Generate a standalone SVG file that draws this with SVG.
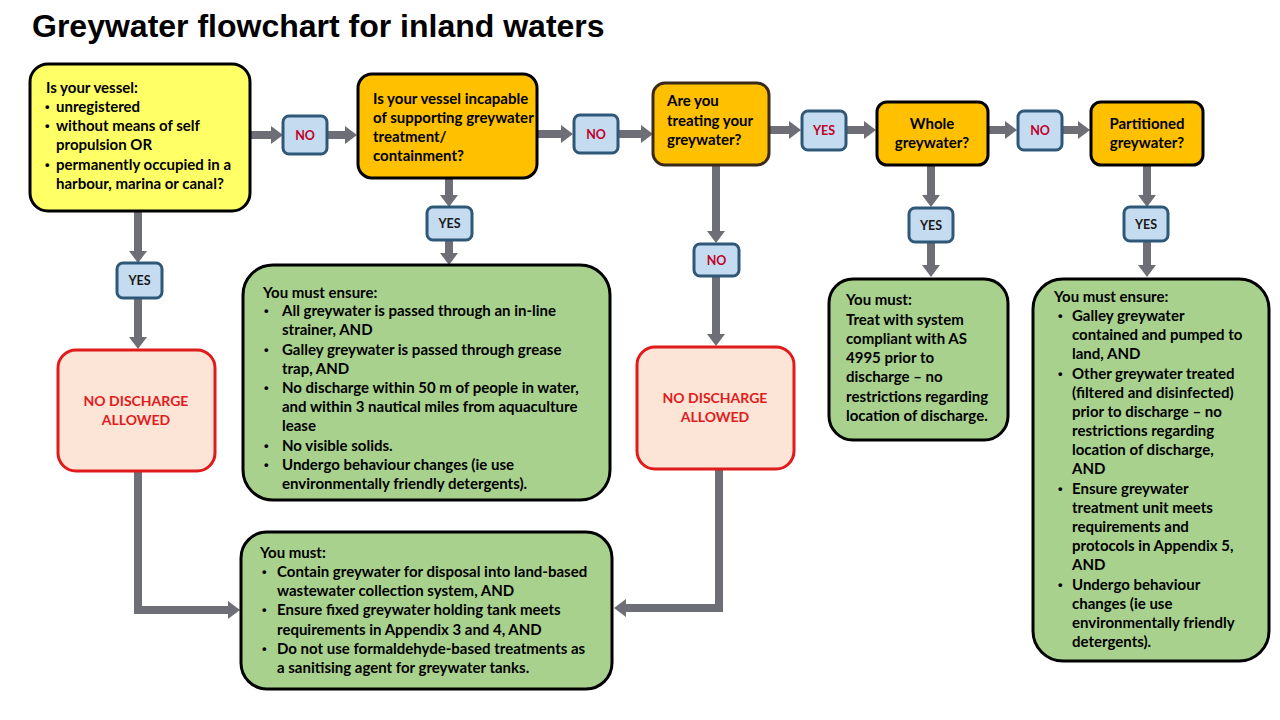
<svg xmlns="http://www.w3.org/2000/svg" width="1280" height="720" viewBox="0 0 1280 720">
<defs>
<marker id="ah" markerUnits="userSpaceOnUse" markerWidth="12" markerHeight="18" viewBox="0 0 12 18" refX="0" refY="9" orient="auto">
<path d="M0,0 L12,9 L0,18 z" fill="#6e6e76"/>
</marker>
</defs>
<style>
.t{font-family:Lato,"Liberation Sans",sans-serif;font-weight:bold;font-size:15px;fill:#000}
.b{font-family:"Liberation Sans",sans-serif;font-weight:bold;font-size:13px;fill:#000}
.title{font-family:"Liberation Sans",Arial,sans-serif;font-weight:bold;font-size:32px;fill:#000}
.yel{fill:#ffff66;stroke:#000;stroke-width:3}
.org{fill:#ffc000;stroke:#000;stroke-width:3}
.grn{fill:#a9d18e;stroke:#000;stroke-width:3}
.red{fill:#fce4d6;stroke:#e01b1b;stroke-width:3}
.lab{fill:#c5dcf0;stroke:#2f5878;stroke-width:3}
.lt{font-family:Lato,"Liberation Sans",sans-serif;font-weight:bold;font-size:12.5px;text-anchor:middle}
.rt{fill:#c0002a}
.bt{fill:#1a1a1a}
.nd{font-family:Lato,"Liberation Sans",sans-serif;font-weight:bold;font-size:14px;fill:#e01b1b;text-anchor:middle}
.c{fill:none;stroke:#6e6e76;stroke-width:8;marker-end:url(#ah)}
</style>
<rect width="1280" height="720" fill="#fff"/>
<text class="title" x="32" y="37">Greywater flowchart for inland waters</text>

<g id="connectors">
<line class="c" x1="250" y1="135" x2="271" y2="135"/>
<line class="c" x1="327" y1="135" x2="345" y2="135"/>
<line class="c" x1="537" y1="134" x2="561" y2="134"/>
<line class="c" x1="618" y1="134" x2="641" y2="134"/>
<line class="c" x1="769" y1="130" x2="789" y2="130"/>
<line class="c" x1="846" y1="130" x2="864" y2="130"/>
<line class="c" x1="988" y1="130" x2="1005" y2="130"/>
<line class="c" x1="1062" y1="130" x2="1078" y2="130"/>
<line class="c" x1="138" y1="211" x2="138" y2="251"/>
<line class="c" x1="138" y1="298" x2="138" y2="337"/>
<polyline class="c" points="138,471 138,610 228,610"/>
<line class="c" x1="449" y1="178" x2="449" y2="195"/>
<line class="c" x1="449" y1="240" x2="449" y2="253"/>
<line class="c" x1="716" y1="165" x2="716" y2="231"/>
<line class="c" x1="716" y1="276" x2="716" y2="334"/>
<polyline class="c" points="719,469 719,608 626,608"/>
<line class="c" x1="931" y1="165" x2="931" y2="195"/>
<line class="c" x1="931" y1="242" x2="931" y2="265"/>
<line class="c" x1="1147" y1="165" x2="1147" y2="195"/>
<line class="c" x1="1147" y1="241" x2="1147" y2="265"/>
</g>

<g id="q1">
<rect class="yel" x="30" y="64" width="220" height="147" rx="18"/>
<text class="t" x="46" y="93">Is your vessel:</text>
<text class="b" x="45" y="111">•</text><text class="t" x="56" y="112">unregistered</text>
<text class="b" x="45" y="130">•</text><text class="t" x="56" y="131">without means of self</text>
<text class="t" x="56" y="150">propulsion OR</text>
<text class="b" x="45" y="169">•</text><text class="t" x="56" y="170">permanently occupied in a</text>
<text class="t" x="56" y="189">harbour, marina or canal?</text>
</g>

<g id="l1"><rect class="lab" x="283" y="116" width="44" height="38" rx="6"/><text class="lt rt" x="305" y="139.5">NO</text></g>

<g id="q2">
<rect class="org" x="358" y="74" width="179" height="104" rx="14"/>
<text class="t" x="373" y="104">Is your vessel incapable</text>
<text class="t" x="373" y="123">of supporting greywater</text>
<text class="t" x="373" y="142">treatment/</text>
<text class="t" x="373" y="161">containment?</text>
</g>

<g id="l2"><rect class="lab" x="574" y="115" width="44" height="38" rx="6"/><text class="lt rt" x="596" y="138.5">NO</text></g>

<g id="q3">
<rect class="org" x="653" y="83" width="116" height="82" rx="12" style="stroke:#3a2a1a"/>
<text class="t" x="667" y="106">Are you</text>
<text class="t" x="667" y="126">treating your</text>
<text class="t" x="667" y="145">greywater?</text>
</g>

<g id="l3"><rect class="lab" x="802" y="111" width="44" height="39" rx="6"/><text class="lt rt" x="824" y="135">YES</text></g>

<g id="q4">
<rect class="org" x="877" y="102" width="111" height="63" rx="10"/>
<text class="t" x="932" y="129" text-anchor="middle">Whole</text>
<text class="t" x="932" y="148" text-anchor="middle">greywater?</text>
</g>

<g id="l4"><rect class="lab" x="1018" y="111" width="44" height="39" rx="6"/><text class="lt rt" x="1040" y="135">NO</text></g>

<g id="q5">
<rect class="org" x="1091" y="102" width="112" height="63" rx="10"/>
<text class="t" x="1147" y="129" text-anchor="middle">Partitioned</text>
<text class="t" x="1147" y="148" text-anchor="middle">greywater?</text>
</g>

<g id="l5"><rect class="lab" x="117" y="263" width="45" height="35" rx="6"/><text class="lt bt" x="139.5" y="285">YES</text></g>
<g id="l6"><rect class="lab" x="427" y="207" width="45" height="33" rx="6"/><text class="lt bt" x="449.5" y="228">YES</text></g>
<g id="l7"><rect class="lab" x="694" y="244" width="45" height="32" rx="6"/><text class="lt rt" x="716.5" y="265">NO</text></g>
<g id="l8"><rect class="lab" x="909" y="208" width="44" height="34" rx="6"/><text class="lt bt" x="931" y="230">YES</text></g>
<g id="l9"><rect class="lab" x="1124" y="207" width="44" height="34" rx="6"/><text class="lt bt" x="1146" y="229">YES</text></g>

<g id="nd1">
<rect class="red" x="58" y="350" width="157" height="121" rx="18"/>
<text class="nd" x="136" y="406">NO DISCHARGE</text>
<text class="nd" x="136" y="425">ALLOWED</text>
</g>

<g id="nd2">
<rect class="red" x="637" y="347" width="157" height="122" rx="18"/>
<text class="nd" x="715" y="403">NO DISCHARGE</text>
<text class="nd" x="715" y="422">ALLOWED</text>
</g>

<g id="a1">
<rect class="grn" x="243" y="265" width="367" height="235" rx="30"/>
<text class="t" x="263" y="298">You must ensure:</text>
<text class="b" x="264" y="315">•</text><text class="t" x="282" y="316">All greywater is passed through an in-line</text>
<text class="t" x="282" y="335">strainer, AND</text>
<text class="b" x="264" y="354">•</text><text class="t" x="282" y="355">Galley greywater is passed through grease</text>
<text class="t" x="282" y="374">trap, AND</text>
<text class="b" x="264" y="392">•</text><text class="t" x="282" y="393">No discharge within 50 m of people in water,</text>
<text class="t" x="282" y="412">and within 3 nautical miles from aquaculture</text>
<text class="t" x="282" y="431">lease</text>
<text class="b" x="264" y="450">•</text><text class="t" x="282" y="451">No visible solids.</text>
<text class="b" x="264" y="469">•</text><text class="t" x="282" y="470">Undergo behaviour changes (ie use</text>
<text class="t" x="282" y="489">environmentally friendly detergents).</text>
</g>

<g id="a2">
<rect class="grn" x="241" y="532" width="371" height="157" rx="26"/>
<text class="t" x="260" y="558">You must:</text>
<text class="b" x="262" y="576">•</text><text class="t" x="277" y="577">Contain greywater for disposal into land-based</text>
<text class="t" x="277" y="596">wastewater collection system, AND</text>
<text class="b" x="262" y="614">•</text><text class="t" x="277" y="615">Ensure fixed greywater holding tank meets</text>
<text class="t" x="277" y="635">requirements in Appendix 3 and 4, AND</text>
<text class="b" x="262" y="653">•</text><text class="t" x="277" y="654">Do not use formaldehyde-based treatments as</text>
<text class="t" x="277" y="673">a sanitising agent for greywater tanks.</text>
</g>

<g id="a3">
<rect class="grn" x="829" y="279" width="179" height="161" rx="24"/>
<text class="t" x="846" y="305">You must:</text>
<text class="t" x="846" y="325">Treat with system</text>
<text class="t" x="846" y="344">compliant with AS</text>
<text class="t" x="846" y="363">4995 prior to</text>
<text class="t" x="846" y="382">discharge – no</text>
<text class="t" x="846" y="402">restrictions regarding</text>
<text class="t" x="846" y="421">location of discharge.</text>
</g>

<g id="a4">
<rect class="grn" x="1033" y="279" width="236" height="382" rx="30"/>
<text class="t" x="1054" y="302">You must ensure:</text>
<text class="b" x="1058" y="320">•</text><text class="t" x="1072" y="321">Galley greywater</text>
<text class="t" x="1072" y="340">contained and pumped to</text>
<text class="t" x="1072" y="359">land, AND</text>
<text class="b" x="1058" y="378">•</text><text class="t" x="1072" y="379">Other greywater treated</text>
<text class="t" x="1072" y="398">(filtered and disinfected)</text>
<text class="t" x="1072" y="417">prior to discharge – no</text>
<text class="t" x="1072" y="436">restrictions regarding</text>
<text class="t" x="1072" y="455">location of discharge,</text>
<text class="t" x="1072" y="474">AND</text>
<text class="b" x="1058" y="493">•</text><text class="t" x="1072" y="494">Ensure greywater</text>
<text class="t" x="1072" y="513">treatment unit meets</text>
<text class="t" x="1072" y="532">requirements and</text>
<text class="t" x="1072" y="551">protocols in Appendix 5,</text>
<text class="t" x="1072" y="570">AND</text>
<text class="b" x="1058" y="589">•</text><text class="t" x="1072" y="590">Undergo behaviour</text>
<text class="t" x="1072" y="609">changes (ie use</text>
<text class="t" x="1072" y="628">environmentally friendly</text>
<text class="t" x="1072" y="647">detergents).</text>
</g>
</svg>
